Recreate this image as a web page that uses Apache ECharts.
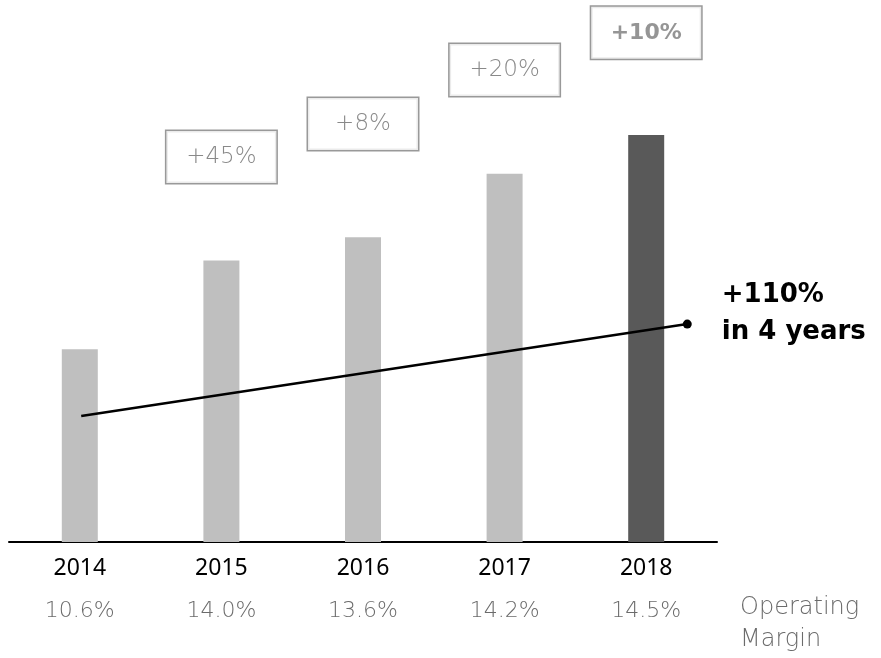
<!DOCTYPE html>
<html>
<head>
<meta charset="utf-8">
<script src="https://cdn.jsdelivr.net/npm/echarts@6/dist/echarts.min.js"></script>
<style>
  html, body { margin: 0; padding: 0; background: #fff; }
  #chart { width: 881px; height: 658px; }
</style>
</head>
<body>
<div id="chart"></div>
<script>
// Revenue index by year (2014 = 100)
const years = ['2014', '2015', '2016', '2017', '2018'];
const revenue = [100, 146, 158, 191, 211];
const operatingMargin = ['10.6%', '14.0%', '13.6%', '14.2%', '14.5%'];

// Year-over-year growth call-outs, placed above each bar
const growthLabels = ['', '+45%', '+8%', '+20%', '+10%'];
const growthBoxLevel = ['-', 199.6, 216.7, 244.7, 264];

// Overall trend arrow: [category position, value]
const trendLine = [[0.01, 65.3], [4.29, 113]];
const trendText = '+110%\nin 4 years';

const barLight = '#bfbfbf';
const barDark = '#595959';
const greyText = '#6b6b6b';
const boxBorder = '#7f7f7f';
const thinFont = 'DejaVu Sans';

const chart = echarts.init(document.getElementById('chart'), null, { renderer: 'canvas' });

const option = {
  animation: false,
  backgroundColor: '#ffffff',
  grid: { left: 9, right: 164, top: 2, bottom: 116 },
  xAxis: [
    {
      type: 'category',
      data: years,
      boundaryGap: true,
      axisLine: { show: true, lineStyle: { color: '#000', width: 2 } },
      axisTick: { show: false },
      axisLabel: {
        margin: 5,
        formatter: function (v, i) {
          return '{y|' + v + '}\n{m|' + operatingMargin[i] + '}';
        },
        rich: {
          y: { fontFamily: 'Noto Sans', fontSize: 23, color: '#000', lineHeight: 43 },
          m: { fontFamily: thinFont, fontWeight: 200, fontSize: 22, color: greyText, lineHeight: 43 }
        }
      }
    },
    {
      type: 'value',
      min: -0.5,
      max: 4.5,
      show: false
    }
  ],
  yAxis: {
    type: 'value',
    min: 0,
    max: 280,
    show: false,
    splitLine: { show: false }
  },
  series: [
    {
      type: 'bar',
      xAxisIndex: 0,
      barWidth: 36,
      data: revenue.map(function (v, i) {
        return { value: v, itemStyle: { color: i === revenue.length - 1 ? barDark : barLight } };
      })
    },
    {
      type: 'scatter',
      xAxisIndex: 0,
      symbol: 'rect',
      symbolSize: 1,
      itemStyle: { color: 'rgba(0,0,0,0)' },
      data: growthBoxLevel.map(function (v, i) {
        const item = { value: v };
        if (i === growthBoxLevel.length - 1) {
          item.label = { fontWeight: 'bold', fontFamily: 'DejaVu Sans', fontSize: 22, color: '#7a7a7a' };
        }
        return item;
      }),
      label: {
        show: true,
        position: 'inside',
        formatter: function (p) { return growthLabels[p.dataIndex]; },
        fontFamily: thinFont,
        fontWeight: 200,
        fontSize: 23,
        color: greyText,
        width: 110,
        height: 52,
        lineHeight: 52,
        align: 'center',
        verticalAlign: 'middle',
        borderColor: boxBorder,
        borderWidth: 1.5,
        backgroundColor: '#fff',
        padding: 0
      },
      z: 5
    },
    {
      type: 'line',
      xAxisIndex: 1,
      data: trendLine.map(function (pt, i) {
        const last = i === trendLine.length - 1;
        return {
          value: pt,
          symbol: last ? 'circle' : 'none',
          symbolSize: 9,
          label: last ? {
            show: true,
            position: 'right',
            distance: 30,
            offset: [0, -10],
            formatter: trendText,
            fontFamily: 'DejaVu Sans',
            fontWeight: 'bold',
            fontSize: 26,
            lineHeight: 37,
            color: '#000'
          } : { show: false }
        };
      }),
      lineStyle: { color: '#000', width: 2.5 },
      itemStyle: { color: '#000' },
      z: 6
    }
  ],
  graphic: [
    {
      type: 'text',
      left: 740,
      top: 592,
      style: {
        text: 'Operating\nMargin',
        fontFamily: thinFont,
        fontWeight: 200,
        fontSize: 24,
        lineHeight: 32,
        fill: greyText
      }
    }
  ]
};

chart.setOption(option);
</script>
</body>
</html>
